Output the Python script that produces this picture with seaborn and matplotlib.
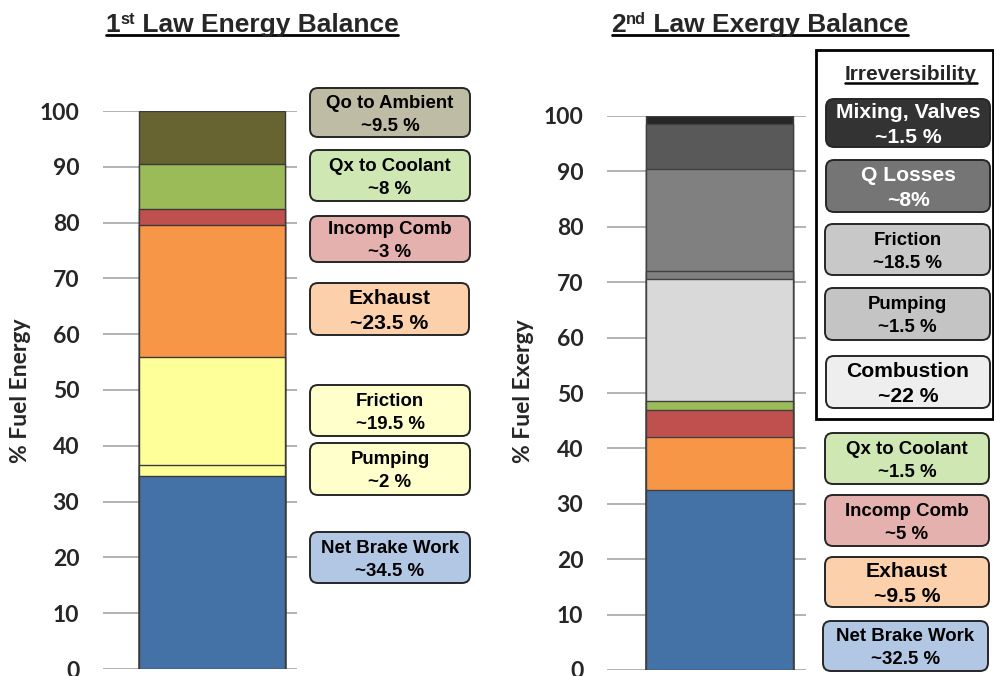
import numpy as np
import pandas as pd
import matplotlib
matplotlib.use("Agg")
import matplotlib.pyplot as plt
from matplotlib.patches import FancyBboxPatch, Rectangle
from matplotlib.lines import Line2D
import seaborn as sns

# ---- data ---------------------------------------------------------------
energy_parts = ["Net Brake Work", "Pumping", "Friction", "Exhaust",
                "Incomp Comb", "Qx to Coolant", "Qo to Ambient"]
energy_vals = [34.5, 2.0, 19.5, 23.5, 3.0, 8.0, 9.5]
energy_labels = ["~34.5 %", "~2 %", "~19.5 %", "~23.5 %", "~3 %", "~8 %", "~9.5 %"]

exergy_parts = ["Net Brake Work", "Exhaust", "Incomp Comb", "Qx to Coolant",
                "Combustion", "Pumping", "Friction", "Q Losses", "Mixing, Valves"]
exergy_vals = [32.5, 9.5, 5.0, 1.5, 22.0, 1.5, 18.5, 8.0, 1.5]
exergy_labels = ["~32.5 %", "~9.5 %", "~5 %", "~1.5 %", "~22 %", "~1.5 %",
                 "~18.5 %", "~8%", "~1.5 %"]

y_ticks = list(range(0, 101, 10))

# ---- styling ------------------------------------------------------------
energy_colors = ["#4471A6", "#FFFF99", "#FFFF99", "#F79646", "#C0504D",
                 "#9BBB59", "#676431"]
exergy_colors = ["#4471A6", "#F79646", "#C0504D", "#9BBB59", "#D9D9D9",
                 "#808080", "#808080", "#595959", "#262626"]

sns.set_style("white")
plt.rcParams["font.family"] = ["Liberation Sans", "DejaVu Sans"]
TICK_FONT = ["Lato", "DejaVu Sans"]
BOX_FONT = ["Liberation Sans", "DejaVu Sans"]

W, H = 995, 676
fig = plt.figure(figsize=(W / 100, H / 100), dpi=100)


def px_axes(x0, x1, y_top, y_bot):
    return fig.add_axes([x0 / W, (H - y_bot) / H, (x1 - x0) / W, (y_bot - y_top) / H])


def stacked_bar(ax, parts, vals, colors, edge):
    df = pd.DataFrame({"part": parts, "value": vals, "color": colors})
    df["top"] = df["value"].cumsum()
    # overlapping cumulative bars, tallest first, give a stacked column
    for _, row in df.iloc[::-1].iterrows():
        sns.barplot(x=["col"], y=[row["top"]], color=row["color"], width=1.0,
                    saturation=1, errorbar=None, edgecolor=edge, linewidth=1.0,
                    ax=ax, zorder=3)
    return df


def style_axes(ax, xl, xr):
    ax.set_ylim(0, 100)
    ax.set_xlim(xl, xr)
    ax.set_yticks(y_ticks)
    ax.set_yticklabels([str(t) for t in y_ticks], family=TICK_FONT,
                       fontweight="bold", fontsize=16.5)
    ax.set_xticks([])
    ax.set_xlabel("")
    ax.set_ylabel("")
    for s in ax.spines.values():
        s.set_visible(False)
    ax.yaxis.grid(True, color="#A6A6A6", linewidth=1.2, zorder=0)
    ax.set_axisbelow(True)
    ax.tick_params(axis="y", length=0, pad=17)
    ax.patch.set_alpha(0)


# left panel: first law
ax1 = px_axes(103, 297, 111, 669)
stacked_bar(ax1, energy_parts, energy_vals, energy_colors, "#3A3A3A")
style_axes(ax1, -0.747, 0.582)

# right panel: second law
ax2 = px_axes(607, 806, 116, 670)
stacked_bar(ax2, exergy_parts, exergy_vals, exergy_colors, "#404040")
style_axes(ax2, -0.765, 0.588)

# overlay in pixel units for titles and callout boxes
ov = fig.add_axes([0, 0, 1, 1])
ov.set_xlim(0, W)
ov.set_ylim(H, 0)
ov.axis("off")
ov.patch.set_alpha(0)

fig.text(21 / W, 1 - 391 / H, "% Fuel Energy", rotation=90, ha="center",
         va="center", family=TICK_FONT, fontweight="bold", fontsize=16.5)
fig.text(523 / W, 1 - 391 / H, "% Fuel Exergy", rotation=90, ha="center",
         va="center", family=TICK_FONT, fontweight="bold", fontsize=16.5)

renderer = fig.canvas.get_renderer()


def title(cx, base, pieces, size):
    texts = []
    for txt, scale, rise in pieces:
        t = ov.text(0, base - rise, txt, fontsize=size * scale, fontweight="bold",
                    family=BOX_FONT, ha="left", va="baseline")
        texts.append(t)
    widths = [t.get_window_extent(renderer).width for t in texts]
    x = cx - sum(widths) / 2
    x_start = x
    for t, w in zip(texts, widths):
        t.set_x(x)
        x += w
    ov.add_line(Line2D([x_start, x], [base + 3, base + 3], color="black", lw=2))


title(252, 32, [("1", 1, 0), ("st", 0.62, 8), (" Law Energy Balance", 1, 0)], 19)
title(760, 32, [("2", 1, 0), ("nd", 0.62, 8), (" Law Exergy Balance", 1, 0)], 19)


def callout(x0, x1, y0, y1, name, value, face, size, tcolor="black"):
    box = FancyBboxPatch((x0, y0), x1 - x0, y1 - y0,
                         boxstyle="round,pad=0,rounding_size=8",
                         facecolor=face, edgecolor="#262626", linewidth=1.4)
    ov.add_patch(box)
    cy = (y0 + y1) / 2
    cap = size * 1.389 * 0.716
    off = 11.5 if size < 14 else 12.5
    ov.text((x0 + x1) / 2, cy - off + cap / 2, name, ha="center", va="baseline",
            fontsize=size, fontweight="bold", family=BOX_FONT, color=tcolor)
    ov.text((x0 + x1) / 2, cy + off + cap / 2, value, ha="center", va="baseline",
            fontsize=size, fontweight="bold", family=BOX_FONT, color=tcolor)


SMALL, LARGE = 13.4, 15.2

# first-law callouts
callout(310, 470, 88, 137, "Qo to Ambient", energy_labels[6], "#BEBCA4", SMALL)
callout(310, 470, 150, 201, "Qx to Coolant", energy_labels[5], "#CFE7B3", SMALL)
callout(310, 470, 216, 262, "Incomp Comb", energy_labels[4], "#E4B1AF", SMALL)
callout(310, 469, 283, 335, "Exhaust", energy_labels[3], "#FBD0AA", LARGE)
callout(310, 470, 385, 436, "Friction", energy_labels[2], "#FFFFCC", SMALL)
callout(310, 470, 443, 495, "Pumping", energy_labels[1], "#FFFFCC", SMALL)
callout(310, 470, 532, 583, "Net Brake Work", energy_labels[0], "#B2C7E3", SMALL)

# second-law irreversibility group
ov.add_patch(Rectangle((816, 50), 177, 369, facecolor="none", edgecolor="black",
                       linewidth=2))
irr = ov.text(911, 80, "Irreversibility", ha="center", va="baseline",
              fontsize=15, fontweight="bold", family=BOX_FONT)
bb = irr.get_window_extent(renderer)
ov.add_line(Line2D([911 - bb.width / 2, 911 + bb.width / 2], [83, 83],
                   color="black", lw=1.8))

callout(826, 990, 99, 147, "Mixing, Valves", exergy_labels[8], "#333333", LARGE, "white")
callout(826, 990, 160, 212, "Q Losses", exergy_labels[7], "#757575", LARGE, "white")
callout(825, 990, 224, 275, "Friction", exergy_labels[6], "#C8C8C8", SMALL)
callout(825, 990, 288, 340, "Pumping", exergy_labels[5], "#C4C4C4", SMALL)
callout(826, 990, 356, 408, "Combustion", exergy_labels[4], "#EEEEEE", LARGE)

callout(825, 989, 433, 484, "Qx to Coolant", exergy_labels[3], "#CFE7B3", SMALL)
callout(825, 989, 495, 546, "Incomp Comb", exergy_labels[2], "#E4B1AF", SMALL)
callout(825, 989, 557, 607, "Exhaust", exergy_labels[1], "#FBD0AA", LARGE)
callout(823, 988, 621, 671, "Net Brake Work", exergy_labels[0], "#B2C7E3", SMALL)

fig.savefig("out.png", dpi=100)
